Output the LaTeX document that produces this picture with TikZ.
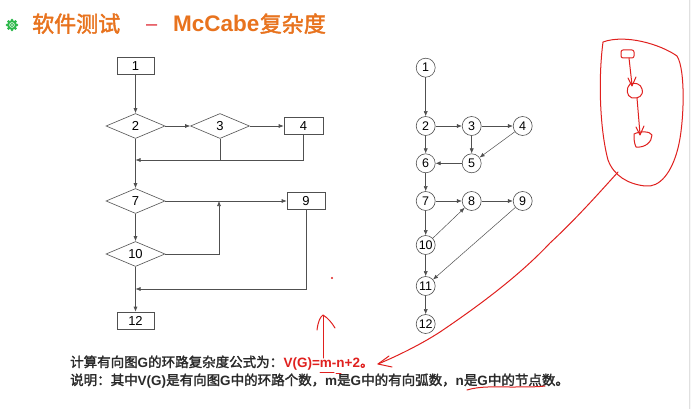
\documentclass[tikz,border=0pt]{standalone}
\usepackage{fontspec}
\setmainfont{Liberation Sans}
\newfontfamily\cjk{Noto Sans CJK SC}[AutoFakeBold=2]
\newfontfamily\lsans{Liberation Sans}
\usetikzlibrary{shapes.geometric,arrows.meta}
\definecolor{titleorange}{HTML}{E8731E}
\definecolor{dashred}{HTML}{E0303A}
\definecolor{penred}{HTML}{E0201E}
\definecolor{flowgray}{HTML}{505050}
\definecolor{textdark}{HTML}{2A2A2A}
\definecolor{leafgreen}{HTML}{2DB84B}
\newcommand{\lat}[1]{{\lsans\bfseries #1}}
\tikzset{
  flow/.style={draw=flowgray, line width=0.6pt},
  arr/.style={flow, -{Latex[length=5pt,width=4pt]}},
  boxnode/.style={flow, rectangle, minimum width=37pt, minimum height=17pt, inner sep=0pt, font=\lsans\fontsize{13}{13}\selectfont},
  dianode/.style={flow, diamond, minimum width=59pt, minimum height=25pt, inner sep=0pt, font=\lsans\fontsize{13}{13}\selectfont},
  cnode/.style={flow, circle, minimum size=19pt, inner sep=0pt, font=\lsans\fontsize{12.5}{12.5}\selectfont},
  pen/.style={draw=penred, line width=1pt, line cap=round, line join=round},
  bodytext/.style={anchor=base west, inner sep=0pt, text=textdark, font=\cjk\bfseries\fontsize{13.5}{13.5}\selectfont},
  titletext/.style={anchor=base west, inner sep=0pt, text=titleorange},
}
\begin{document}
\begin{tikzpicture}[x=1pt, y=-1pt]
\useasboundingbox (0,0) rectangle (691,409);
\fill[white] (0,0) rectangle (691,409);
\fill[black!3] (689,0) rectangle (691,409);
\draw[black!12, line width=0.5pt] (689,0) -- (689,409);

% title bullet
\fill[leafgreen] (12,25) circle (4.6);
\foreach \a in {0,45,...,315}
  \fill[leafgreen] (12,25) ++(\a:4.8) circle (1.6);
\draw[white, line width=0.6pt] (12,25) circle (2.4);
\fill[white] (12,25) circle (0.8);

% title
\node[titletext, font=\cjk\bfseries\fontsize{22}{22}\selectfont] (t1) at (32,32) {软件测试};
\node[anchor=base west, inner sep=0pt, text=dashred, font=\lsans\fontsize{20}{20}\selectfont] (t2) at (146,31) {–};
\node[titletext, font=\lsans\bfseries\fontsize{22.5}{22.5}\selectfont] (t3) at (173,32) {McCabe};
\node[titletext, font=\cjk\bfseries\fontsize{22}{22}\selectfont] (t4) at (t3.base east) {复杂度};

% flowchart
\node[boxnode] (b1) at (135.5,66) {1};
\node[dianode] (d2) at (135.5,126) {2};
\node[dianode] (d3) at (220,126) {3};
\node[boxnode, minimum width=39pt] (b4) at (303.5,126) {4};
\node[dianode] (d7) at (135.5,201) {7};
\node[boxnode, minimum width=38pt] (b9) at (306,201) {9};
\node[dianode] (d10) at (135.5,254) {10};
\node[boxnode] (b12) at (135.5,320.5) {12};
\coordinate (m1) at (135.5,160);
\coordinate (m2) at (135.5,289);
\coordinate (up) at (219,201);

\draw[arr] (b1) -- (d2);
\draw[arr] (d2) -- (d3);
\draw[arr] (d3) -- (b4);
\draw[arr] (b4.south) |- (m1);
\draw[flow] (d3.south) -- (d3.south |- m1);
\draw[arr] (d2.south) -- (d7.north);
\draw[arr] (d7.east) -- (b9.west);
\draw[arr] (d10.east) -| (up);
\draw[arr] (d7.south) -- (d10.north);
\draw[arr] (b9.south) |- (m2);
\draw[arr] (d10.south) -- (b12.north);

% flow graph
\node[cnode] (c1) at (425.7,67.7) {1};
\node[cnode] (c2) at (425.7,126) {2};
\node[cnode] (c3) at (471.7,126) {3};
\node[cnode] (c4) at (522.7,126) {4};
\node[cnode] (c5) at (471.7,163.3) {5};
\node[cnode] (c6) at (425.7,163.3) {6};
\node[cnode] (c7) at (425.7,201) {7};
\node[cnode] (c8) at (471.7,201) {8};
\node[cnode] (c9) at (522.7,201) {9};
\node[cnode] (c10) at (425.7,245) {10};
\node[cnode] (c11) at (425.7,286) {11};
\node[cnode] (c12) at (425.7,324) {12};

\foreach \s/\t in {c1/c2,c2/c3,c3/c4,c2/c6,c3/c5,c4/c5,c5/c6,c6/c7,c7/c8,c8/c9,c7/c10,c10/c8,c9/c11,c10/c11,c11/c12}
  \draw[arr, line width=0.5pt] (\s) -- (\t);

% formula text
\node[bodytext] (f1) at (70,367) {计算有向图\lat{G}的环路复杂度公式为：};
\node[anchor=base west, inner sep=0pt, text=penred, font=\lsans\bfseries\fontsize{13.5}{13.5}\selectfont] (f2) at (f1.base east) {V(G)=m-n+2{\cjk 。}};
\node[bodytext] (f3) at (70,385) {说明：其中\lat{V(G)}是有向图\lat{G}中的环路个数，\lat{m}是\lat{G}中的有向弧数，\lat{n}是\lat{G}中的节点数。};

% pen marks: loop with a small sketch inside
\draw[pen] (603,42) .. controls (625,34) and (660,44) .. (677,56)
  .. controls (686,70) and (684,125) .. (678,148)
  .. controls (672,172) and (660,188) .. (645,186)
  .. controls (628,184) and (614,176) .. (608,160)
  .. controls (600,130) and (598,80) .. (603,42);
\draw[pen, rounded corners=2pt] (621,50) rectangle (634,58);
\draw[pen] (629,58) -- (632,85);
\draw[pen] (628,78) -- (632,86) -- (636,77);
\draw[pen] (630,84) .. controls (626,88) and (626,96) .. (632,98)
  .. controls (638,99) and (644,96) .. (642,89)
  .. controls (641,84) and (635,82) .. (630,84);
\draw[pen] (637,98) -- (640,134);
\draw[pen] (636,127) -- (640,135) -- (644,126);
\draw[pen] (634,134) .. controls (640,131) and (650,131) .. (652,135)
  .. controls (652,142) and (645,148) .. (636,147)
  .. controls (634,143) and (634,138) .. (634,134);

% pen marks: long arrow to the formula
\draw[pen] (618,172) .. controls (600,192) and (575,220) .. (550,243)
  .. controls (520,275) and (480,305) .. (440,332)
  .. controls (420,345) and (395,357) .. (378,364);
\draw[pen] (389,356) -- (378,364) -- (392,367);

% pen marks: upward arrow, dot and underlines
\draw[pen] (323,358) -- (323,316);
\draw[pen] (317,330) .. controls (318,322) and (320,317) .. (323,315)
  .. controls (328,318) and (332,323) .. (335,328);
\fill[penred] (332,278) circle (1.2);

\draw[pen] (320,372) -- (334,372);
\draw[pen] (336,373.5) -- (341,373.5);
\draw[pen] (467,390) .. controls (480,386) and (495,387) .. (510,387)
  .. controls (525,387) and (538,387) .. (545,386);
\end{tikzpicture}
\end{document}
